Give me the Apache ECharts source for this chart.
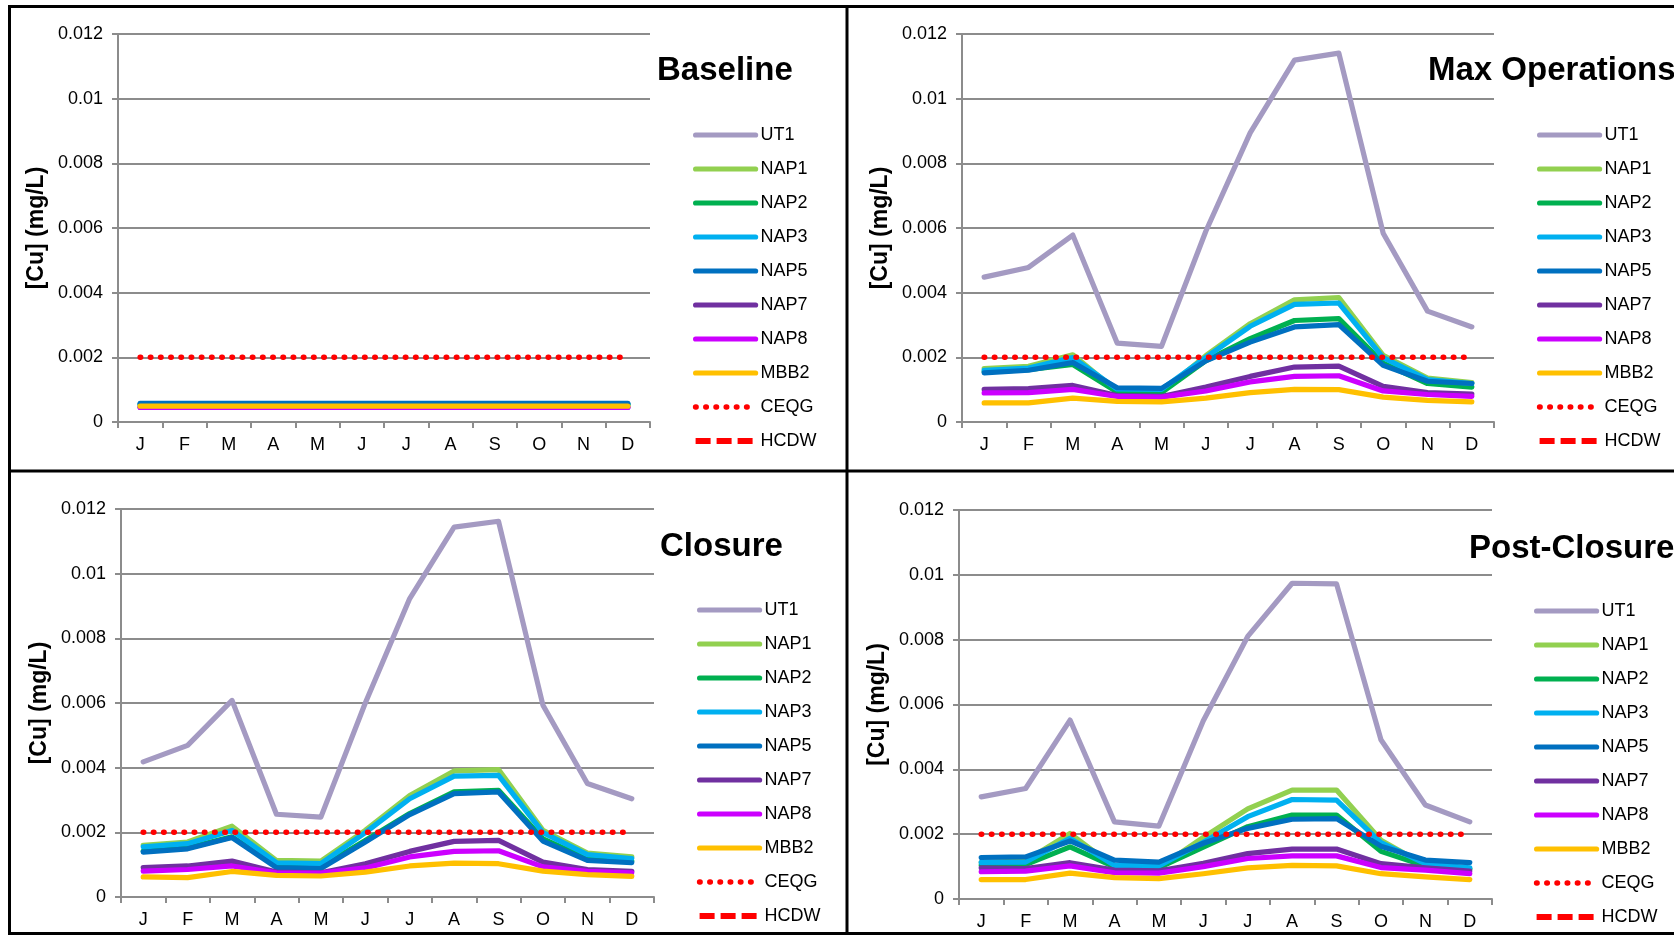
<!DOCTYPE html>
<html>
<head>
<meta charset="utf-8">
<script src="https://cdn.jsdelivr.net/npm/echarts@6/dist/echarts.min.js"></script>
<style>
html,body{margin:0;padding:0;background:#fff;}
#c{width:1674px;height:936px;}
</style>
</head>
<body>
<div id="c"></div>
<script>
// ---------- DATA ----------
const months = ['J','F','M','A','M','J','J','A','S','O','N','D'];
const seriesNames = ['UT1','NAP1','NAP2','NAP3','NAP5','NAP7','NAP8','MBB2','CEQG','HCDW'];
const panelTitles = ['Baseline','Max Operations','Closure','Post-Closure'];
const yAxisName = '[Cu] (mg/L)';

// Guideline values (mg/L)
const ceqg = [0.002,0.002,0.002,0.002,0.002,0.002,0.002,0.002,0.002,0.002,0.002,0.002];
const hcdw = []; // off scale (not visible in the plot area)

// Baseline
const base_ut1  = [0.00047,0.00047,0.00047,0.00047,0.00047,0.00047,0.00047,0.00047,0.00047,0.00047,0.00047,0.00047];
const base_nap1 = [0.00054,0.00054,0.00054,0.00054,0.00054,0.00054,0.00054,0.00054,0.00054,0.00054,0.00054,0.00054];
const base_nap2 = [0.00054,0.00054,0.00054,0.00054,0.00054,0.00054,0.00054,0.00054,0.00054,0.00054,0.00054,0.00054];
const base_nap3 = [0.00056,0.00056,0.00056,0.00056,0.00056,0.00056,0.00056,0.00056,0.00056,0.00056,0.00056,0.00056];
const base_nap5 = [0.00058,0.00058,0.00058,0.00058,0.00058,0.00058,0.00058,0.00058,0.00058,0.00058,0.00058,0.00058];
const base_nap7 = [0.00046,0.00046,0.00046,0.00046,0.00046,0.00046,0.00046,0.00046,0.00046,0.00046,0.00046,0.00046];
const base_nap8 = [0.00045,0.00045,0.00045,0.00045,0.00045,0.00045,0.00045,0.00045,0.00045,0.00045,0.00045,0.00045];
const base_mbb2 = [0.00049,0.00049,0.00049,0.00049,0.00049,0.00049,0.00049,0.00049,0.00049,0.00049,0.00049,0.00049];

// Max Operations
const ops_ut1  = [0.00448,0.00478,0.00578,0.00244,0.00234,0.00590,0.00894,0.01119,0.01141,0.00584,0.00343,0.00294];
const ops_nap1 = [0.00165,0.00172,0.00208,0.00095,0.00093,0.00205,0.00304,0.00378,0.00385,0.00206,0.00136,0.00122];
const ops_nap2 = [0.00155,0.00162,0.00178,0.00093,0.00091,0.00190,0.00258,0.00314,0.00320,0.00182,0.00119,0.00108];
const ops_nap3 = [0.00160,0.00167,0.00199,0.00102,0.00101,0.00200,0.00296,0.00364,0.00368,0.00199,0.00131,0.00119];
const ops_nap5 = [0.00152,0.00160,0.00184,0.00106,0.00104,0.00189,0.00247,0.00294,0.00301,0.00175,0.00126,0.00119];
const ops_nap7 = [0.00101,0.00103,0.00113,0.00082,0.00079,0.00108,0.00141,0.00170,0.00173,0.00110,0.00091,0.00086];
const ops_nap8 = [0.00090,0.00091,0.00101,0.00079,0.00077,0.00096,0.00124,0.00141,0.00143,0.00096,0.00085,0.00079];
const ops_mbb2 = [0.00059,0.00059,0.00074,0.00064,0.00062,0.00074,0.00091,0.00101,0.00100,0.00077,0.00067,0.00062];

// Closure
const clo_ut1  = [0.00418,0.00469,0.00608,0.00256,0.00247,0.00600,0.00923,0.01144,0.01162,0.00593,0.00351,0.00304];
const clo_nap1 = [0.00160,0.00170,0.00219,0.00113,0.00111,0.00206,0.00314,0.00390,0.00394,0.00206,0.00136,0.00124];
const clo_nap2 = [0.00141,0.00152,0.00186,0.00096,0.00093,0.00175,0.00258,0.00325,0.00330,0.00180,0.00119,0.00110];
const clo_nap3 = [0.00155,0.00165,0.00206,0.00106,0.00103,0.00199,0.00304,0.00374,0.00376,0.00199,0.00131,0.00119];
const clo_nap5 = [0.00139,0.00149,0.00184,0.00091,0.00088,0.00170,0.00255,0.00320,0.00325,0.00173,0.00113,0.00106];
const clo_nap7 = [0.00091,0.00096,0.00111,0.00077,0.00075,0.00103,0.00141,0.00172,0.00175,0.00108,0.00085,0.00079];
const clo_nap8 = [0.00080,0.00085,0.00096,0.00075,0.00074,0.00090,0.00124,0.00141,0.00143,0.00093,0.00079,0.00075];
const clo_mbb2 = [0.00062,0.00060,0.00079,0.00067,0.00065,0.00077,0.00096,0.00105,0.00103,0.00080,0.00069,0.00064];

// Post-Closure
const post_ut1  = [0.00315,0.00341,0.00552,0.00238,0.00225,0.00550,0.00810,0.00974,0.00972,0.00491,0.00290,0.00238];
const post_nap1 = [0.00112,0.00118,0.00202,0.00099,0.00097,0.00190,0.00278,0.00336,0.00336,0.00181,0.00104,0.00092];
const post_nap2 = [0.00104,0.00106,0.00161,0.00099,0.00097,0.00160,0.00223,0.00259,0.00259,0.00147,0.00102,0.00092];
const post_nap3 = [0.00113,0.00114,0.00187,0.00104,0.00102,0.00175,0.00254,0.00307,0.00305,0.00174,0.00109,0.00096];
const post_nap5 = [0.00128,0.00130,0.00179,0.00120,0.00114,0.00172,0.00218,0.00246,0.00248,0.00163,0.00120,0.00112];
const post_nap7 = [0.00096,0.00094,0.00112,0.00089,0.00087,0.00110,0.00140,0.00154,0.00154,0.00109,0.00096,0.00086];
const post_nap8 = [0.00084,0.00086,0.00102,0.00081,0.00080,0.00100,0.00125,0.00133,0.00133,0.00097,0.00089,0.00078];
const post_mbb2 = [0.00060,0.00060,0.00080,0.00066,0.00063,0.00078,0.00096,0.00104,0.00102,0.00078,0.00068,0.00060];

// ---------- STYLE / LAYOUT ----------
const FONT = "'Liberation Sans', Arial, sans-serif";
const colors = {
  UT1:'#A49AC2', NAP1:'#92D050', NAP2:'#00B050', NAP3:'#00B0F0', NAP5:'#0070C0',
  NAP7:'#7030A0', NAP8:'#CC00FF', MBB2:'#FFC000', CEQG:'#FF0000', HCDW:'#FF0000'
};
const panelData = [
  [base_ut1, base_nap1, base_nap2, base_nap3, base_nap5, base_nap7, base_nap8, base_mbb2, ceqg, hcdw],
  [ops_ut1, ops_nap1, ops_nap2, ops_nap3, ops_nap5, ops_nap7, ops_nap8, ops_mbb2, ceqg, hcdw],
  [clo_ut1, clo_nap1, clo_nap2, clo_nap3, clo_nap5, clo_nap7, clo_nap8, clo_mbb2, ceqg, hcdw],
  [post_ut1, post_nap1, post_nap2, post_nap3, post_nap5, post_nap7, post_nap8, post_mbb2, ceqg, hcdw]
];
const layout = [
  {grid:{left:118, top:34,  width:532, height:388}, title:{left:657,  top:54},  legend:{left:692.6,  top:126}},
  {grid:{left:962, top:34,  width:532, height:388}, title:{left:1428, top:54},  legend:{left:1536.6, top:126}},
  {grid:{left:121, top:509, width:533, height:388}, title:{left:660,  top:530}, legend:{left:696.6,  top:601}},
  {grid:{left:959, top:510, width:533, height:389}, title:{left:1469, top:532}, legend:{left:1533.6, top:602}}
];
const gray = '#8c8c8c';

function lineStyleFor(name) {
  if (name === 'CEQG') return {color: colors[name], width: 5.5, type: [0.5, 9.7], cap: 'round'};
  if (name === 'HCDW') return {color: colors[name], width: 6, type: [15, 6], cap: 'butt'};
  return {color: colors[name], width: 5.2, cap: 'round', join: 'round'};
}

const option = {
  animation: false,
  backgroundColor: '#fff',
  textStyle: {fontFamily: FONT},
  title: [], grid: [], xAxis: [], yAxis: [], legend: [], series: [],
  graphic: [
    {type:'rect', shape:{x:9.5, y:6.5, width:1700, height:927}, style:{fill:null, stroke:'#000', lineWidth:3}, z:100},
    {type:'line', shape:{x1:847, y1:6, x2:847, y2:934}, style:{stroke:'#000', lineWidth:3}, z:100},
    {type:'line', shape:{x1:9, y1:471, x2:1700, y2:471}, style:{stroke:'#000', lineWidth:3}, z:100}
  ]
};

for (let p = 0; p < 4; p++) {
  const L = layout[p];
  option.title.push({
    text: panelTitles[p], left: L.title.left, top: L.title.top, padding: 0,
    textStyle: {fontFamily: FONT, fontSize: 33, fontWeight: 'bold', color: '#000'}
  });
  option.grid.push(Object.assign({containLabel: false}, L.grid));
  option.xAxis.push({
    type: 'category', gridIndex: p, data: months, boundaryGap: true,
    axisLine: {lineStyle: {color: gray, width: 2}},
    axisTick: {show: true, length: 6, alignWithLabel: false, lineStyle: {color: gray, width: 2}},
    axisLabel: {interval: 0, color: '#000', fontSize: 18, margin: 14, fontFamily: FONT},
    splitLine: {show: false}
  });
  option.yAxis.push({
    type: 'value', gridIndex: p, min: 0, max: 0.012, interval: 0.002,
    name: yAxisName, nameLocation: 'middle', nameGap: 70,
    nameTextStyle: {fontFamily: FONT, fontSize: 23, fontWeight: 'bold', color: '#000'},
    axisLine: {show: true, lineStyle: {color: gray, width: 2}},
    axisTick: {show: true, length: 6, lineStyle: {color: gray, width: 2}},
    splitLine: {show: true, lineStyle: {color: gray, width: 2}},
    axisLabel: {color: '#000', fontSize: 18, margin: 15, fontFamily: FONT}
  });
  option.legend.push({
    orient: 'vertical', left: L.legend.left, top: L.legend.top, padding: 0,
    itemWidth: 60, itemHeight: 14, itemGap: 16,
    data: seriesNames,
    textStyle: {fontFamily: FONT, fontSize: 18, color: '#000'},
    lineStyle: {width: 'inherit'},
    itemStyle: {opacity: 0, borderWidth: 0},
    selectedMode: false
  });
  seriesNames.forEach((name, k) => {
    option.series.push({
      type: 'line', name: name, xAxisIndex: p, yAxisIndex: p,
      data: panelData[p][k], symbol: 'none', showSymbol: false,
      lineStyle: lineStyleFor(name), itemStyle: {color: colors[name]},
      emphasis: {disabled: true}, silent: true
    });
  });
}

const chart = echarts.init(document.getElementById('c'), null, {renderer: 'canvas'});
chart.setOption(option);
</script>
</body>
</html>
